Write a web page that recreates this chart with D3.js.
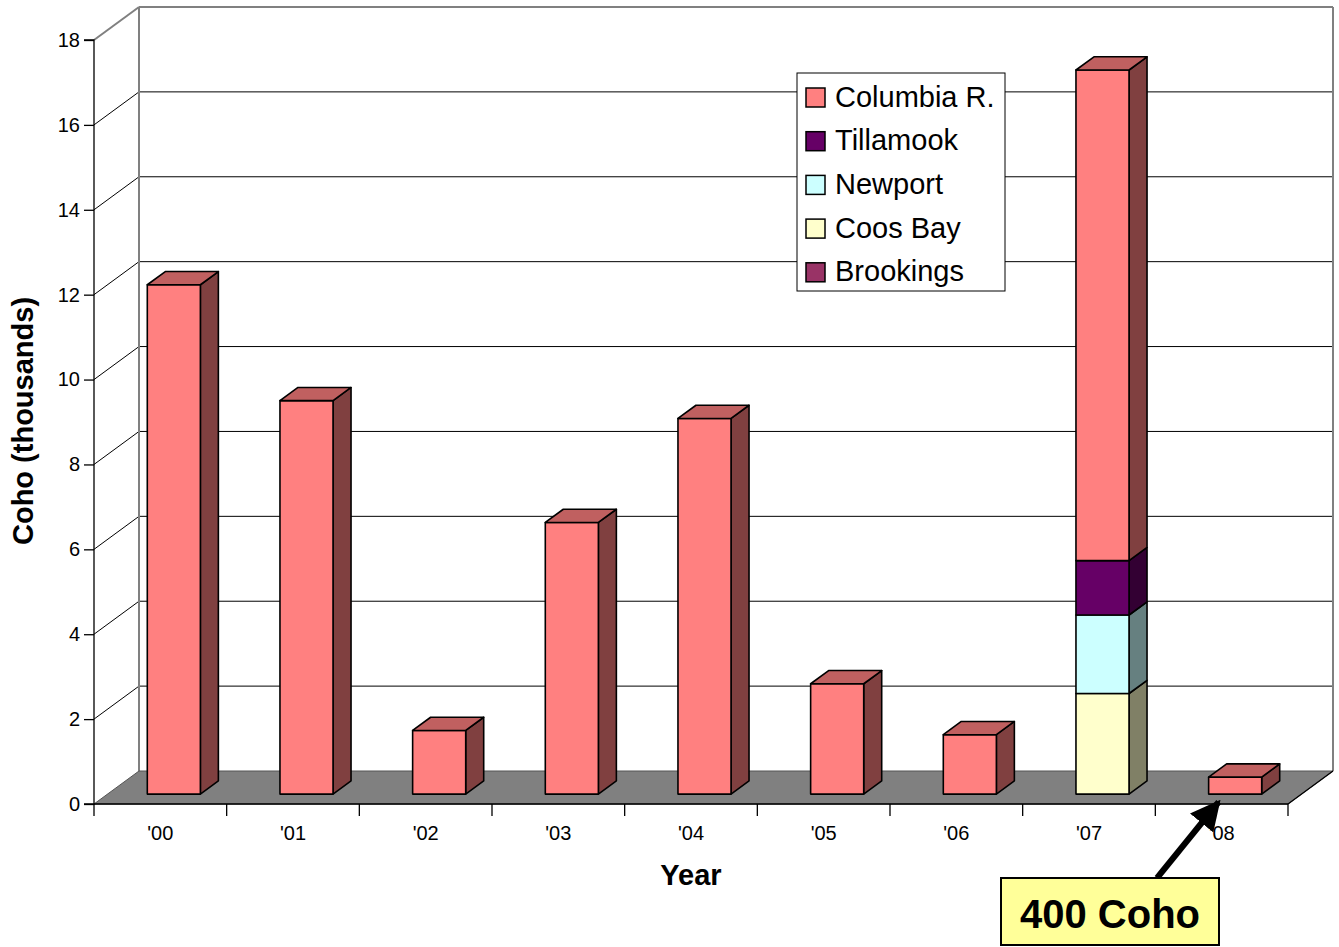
<!DOCTYPE html>
<html>
<head>
<meta charset="utf-8">
<script src="https://cdn.jsdelivr.net/npm/d3@7/dist/d3.min.js"></script>
<style>
  html, body { margin: 0; padding: 0; background: #fff; }
  svg { display: block; font-family: Arial, "Liberation Sans", sans-serif; }
</style>
</head>
<body>
<svg id="chart" width="1339" height="947"></svg>
<script>
// Coho catch by port, thousands of fish
const years = ["'00", "'01", "'02", "'03", "'04", "'05", "'06", "'07", "'08"];
const columbia  = [12.0, 9.27, 1.5, 6.4, 8.85, 2.6, 1.4, 11.56, 0.4];
const tillamook = [0, 0, 0, 0, 0, 0, 0, 1.28, 0];
const newport   = [0, 0, 0, 0, 0, 0, 0, 1.85, 0];
const coosBay   = [0, 0, 0, 0, 0, 0, 0, 2.37, 0];
const brookings = [0, 0, 0, 0, 0, 0, 0, 0, 0];
const yTicks = [0, 2, 4, 6, 8, 10, 12, 14, 16, 18];

// stacking order, bottom to top
const seriesNames = ["Brookings", "Coos Bay", "Newport", "Tillamook", "Columbia R."];
const seriesData = [brookings, coosBay, newport, tillamook, columbia];
const legendOrder = ["Columbia R.", "Tillamook", "Newport", "Coos Bay", "Brookings"];

const palette = {
  "Columbia R.": { front: "#FF8080", top: "#C06060", side: "#804040" },
  "Tillamook":   { front: "#660066", top: "#4D004D", side: "#330033" },
  "Newport":     { front: "#CCFFFF", top: "#99BFBF", side: "#668080" },
  "Coos Bay":    { front: "#FFFFCC", top: "#BFBF99", side: "#808066" },
  "Brookings":   { front: "#993366", top: "#73264D", side: "#4D1A33" }
};

const svg = d3.select("#chart");

// plot geometry: front plane and depth offset of the 3-D box
const left = 94, right = 1288, floorY = 804, topY = 40;
const DX = 45, DY = -33;
const y = d3.scaleLinear().domain([0, 18]).range([floorY, topY]);
const x = d3.scaleBand().domain(years).range([left, right]).paddingInner(0.6).paddingOuter(0.3);
const dFront = 0.3, dBack = 0.7; // bar depth position as fraction of the box depth

const P = (px, py, d) => [px + d * DX, py + d * DY];
const poly = pts => "M" + pts.map(p => p.join(",")).join("L") + "Z";

// walls
svg.append("path").attr("d", poly([[left + DX, topY + DY], [right + DX, topY + DY], [right + DX, floorY + DY], [left + DX, floorY + DY]]))
  .attr("fill", "#fff");

// gridlines on the left wall and back wall
const grid = svg.append("g");
yTicks.filter(v => v > 0).forEach(v => {
  const c = v === 18 ? "#808080" : "#000";
  grid.append("line").attr("x1", left).attr("y1", y(v)).attr("x2", left + DX).attr("y2", y(v) + DY)
    .attr("stroke", c).attr("stroke-width", v === 18 ? 2 : 1);
  grid.append("line").attr("x1", left + DX).attr("y1", y(v) + DY).attr("x2", right + DX).attr("y2", y(v) + DY)
    .attr("stroke", c).attr("stroke-width", v === 18 ? 2 : 1);
});
// back-left and back-right edges
svg.append("line").attr("x1", left + DX).attr("y1", topY + DY).attr("x2", left + DX).attr("y2", floorY + DY)
  .attr("stroke", "#808080").attr("stroke-width", 2);
svg.append("line").attr("x1", right + DX).attr("y1", topY + DY).attr("x2", right + DX).attr("y2", floorY + DY)
  .attr("stroke", "#808080").attr("stroke-width", 2);

// floor
svg.append("path").attr("d", poly([[left, floorY], [right, floorY], [right + DX, floorY + DY], [left + DX, floorY + DY]]))
  .attr("fill", "#808080").attr("stroke", "#555").attr("stroke-width", 1);

// bars
const bars = svg.append("g");
years.forEach((yr, i) => {
  const x0 = x(yr), w = x.bandwidth();
  let base = 0;
  const segs = [];
  seriesNames.forEach((name, s) => {
    const v = seriesData[s][i];
    if (v > 0) { segs.push({ name, v0: base, v1: base + v }); base += v; }
  });
  segs.forEach((sg, k) => {
    const col = palette[sg.name];
    const yb = y(sg.v0), yt = y(sg.v1);
    const fl = P(x0, yb, dFront), fr = P(x0 + w, yb, dFront);
    const tl = P(x0, yt, dFront), tr = P(x0 + w, yt, dFront);
    const br = P(x0 + w, yb, dBack), trb = P(x0 + w, yt, dBack), tlb = P(x0, yt, dBack);
    const g = bars.append("g").attr("stroke", "#000").attr("stroke-width", 1.6).attr("stroke-linejoin", "round");
    g.append("path").attr("d", poly([fr, br, trb, tr])).attr("fill", col.side);
    g.append("path").attr("d", poly([fl, fr, tr, tl])).attr("fill", col.front);
    if (k === segs.length - 1) {
      g.append("path").attr("d", poly([tl, tr, trb, tlb])).attr("fill", col.top);
    }
  });
});

// value axis
const yAxis = svg.append("g").attr("transform", `translate(${left},0)`)
  .call(d3.axisLeft(y).tickValues(yTicks).tickSize(10).tickPadding(4).tickFormat(d3.format("d")));
yAxis.select(".domain").attr("stroke", "#000").attr("stroke-width", 1.3).attr("d", `M-10,${y(0)}H0V${y(18)}H-10`);
yAxis.selectAll(".tick line").attr("stroke", "#000").attr("stroke-width", 1.3);
yAxis.selectAll(".tick text").attr("font-size", 20).attr("fill", "#000").attr("font-family", "Arial, 'Liberation Sans', sans-serif");

// category axis
const xAxis = svg.append("g").attr("transform", `translate(0,${floorY})`)
  .call(d3.axisBottom(x).tickSize(0).tickPadding(22));
xAxis.select(".domain").attr("stroke", "#000").attr("stroke-width", 1.3).attr("d", `M${left},0H${right}`);
xAxis.selectAll(".tick text").attr("font-size", 20).attr("fill", "#000").attr("font-family", "Arial, 'Liberation Sans', sans-serif");
const step = x.step();
d3.range(years.length + 1).forEach(k => {
  xAxis.append("line").attr("x1", left + k * step).attr("x2", left + k * step).attr("y1", 0).attr("y2", 12)
    .attr("stroke", "#000").attr("stroke-width", 1.3);
});
// right floor edge
svg.append("line").attr("x1", right).attr("y1", floorY).attr("x2", right + DX).attr("y2", floorY + DY)
  .attr("stroke", "#000").attr("stroke-width", 1.3);

// axis titles
svg.append("text").attr("x", 691).attr("y", 885).attr("text-anchor", "middle")
  .attr("font-size", 29).attr("font-weight", "bold").text("Year");
svg.append("text").attr("transform", "translate(33,421) rotate(-90)").attr("text-anchor", "middle")
  .attr("font-size", 29).attr("font-weight", "bold").text("Coho (thousands)");

// legend
const lg = svg.append("g").attr("transform", "translate(797,73)");
lg.append("rect").attr("width", 208).attr("height", 218).attr("fill", "#fff").attr("stroke", "#000").attr("stroke-width", 1);
legendOrder.forEach((name, k) => {
  const row = lg.append("g").attr("transform", `translate(0,${15 + k * 43.7})`);
  row.append("rect").attr("x", 9).attr("y", 0).attr("width", 19).attr("height", 19)
    .attr("fill", palette[name].front).attr("stroke", "#000").attr("stroke-width", 1.5);
  row.append("text").attr("x", 38).attr("y", 18.5).attr("font-size", 29).attr("fill", "#000").text(name);
});

// callout for the 2008 bar
const defs = svg.append("defs");
defs.append("marker").attr("id", "head").attr("viewBox", "0 0 10 10").attr("refX", 9).attr("refY", 5)
  .attr("markerWidth", 5).attr("markerHeight", 5).attr("orient", "auto")
  .append("path").attr("d", "M0,0L10,5L0,10Z").attr("fill", "#000");
const last = years[years.length - 1];
const tipX = x(last) + dFront * DX + 10, tipY = floorY - 2;
svg.append("line").attr("x1", 1157).attr("y1", 878).attr("x2", tipX).attr("y2", tipY)
  .attr("stroke", "#000").attr("stroke-width", 6).attr("marker-end", "url(#head)");
svg.append("rect").attr("x", 1001).attr("y", 878).attr("width", 218).attr("height", 67)
  .attr("fill", "#FFFF99").attr("stroke", "#000").attr("stroke-width", 2);
svg.append("text").attr("x", 1110).attr("y", 928).attr("text-anchor", "middle")
  .attr("font-size", 40).attr("font-weight", "bold").text(`${columbia[columbia.length - 1] * 1000} Coho`);
</script>
</body>
</html>
